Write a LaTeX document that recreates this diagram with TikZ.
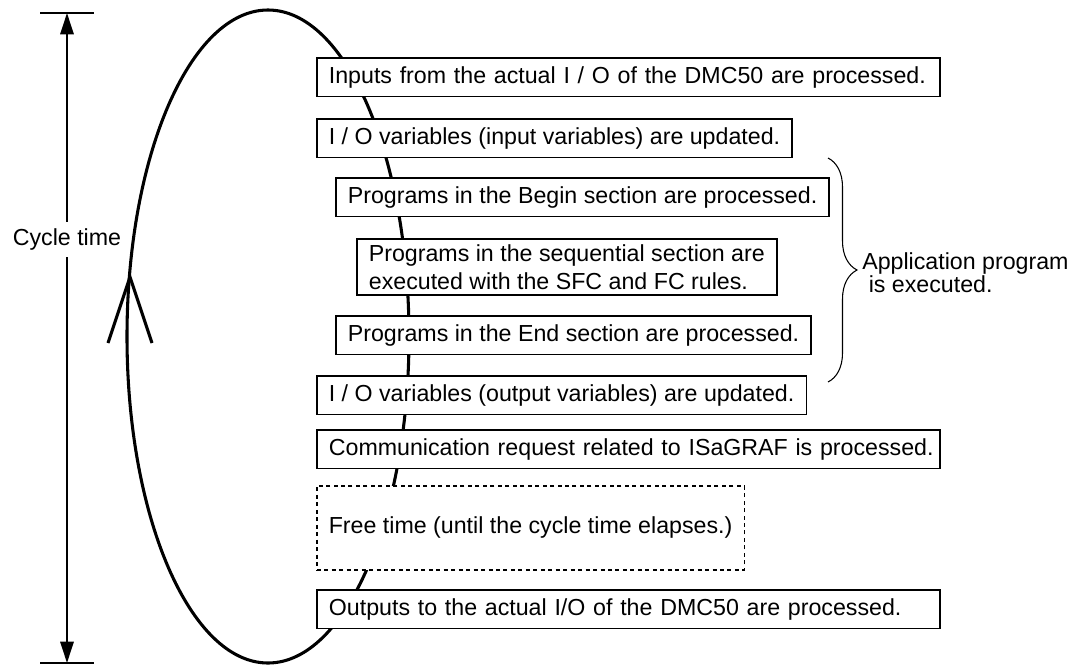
\documentclass[tikz,border=0pt]{standalone}
\usepackage{fontspec}
\setmainfont{Liberation Sans}
\usetikzlibrary{arrows.meta,decorations.pathreplacing}
\newcommand{\boxfont}{\fontsize{17.4pt}{21pt}\selectfont}
\tikzset{
  >={Triangle[length=16pt,width=10pt]},
  stepbox/.style={draw, fill=white, line width=1.3pt, anchor=north west,
    inner xsep=9pt, inner ysep=2pt, minimum height=29pt, align=left,
    font=\boxfont},
  widebox/.style={stepbox, text width=449.25pt},
  freebox/.style={stepbox, line width=1.2pt, dash pattern=on 3pt off 2.6pt,
    minimum height=63pt},
  loopline/.style={line width=2.3pt},
  tick/.style={line width=1.8pt},
  timearrow/.style={line width=1.5pt, <->},
  timelabel/.style={fill=white, font=\boxfont, inner xsep=1pt,
    minimum height=26pt},
  appbrace/.style={decorate, decoration={brace, amplitude=21.75pt},
    line width=.8pt},
  applabel/.style={anchor=west, inner sep=0pt, align=left,
    font=\fontsize{17.4pt}{16pt}\selectfont}
}

\begin{document}
\begin{tikzpicture}[x=.75pt,y=-.75pt]
  \useasboundingbox (0,0) rectangle (1081,664);

  % ------------------------------------------------------------------
  % 1. Scan loop
  \draw[loopline] (268,336.5) ellipse [x radius=141, y radius=326.5];
  \coordinate (looptip) at (130,277);
  \draw[loopline] (108,343) -- (looptip) -- (152,343);

  % ------------------------------------------------------------------
  % 2. Cycle time
  \coordinate (ctop) at (67,13);
  \coordinate (cbot) at (67,663);
  \draw[tick] ([xshift=-20pt]ctop) -- ([xshift=20pt]ctop);
  \draw[tick] ([xshift=-20pt]cbot) -- ([xshift=20pt]cbot);
  \draw[timearrow] (ctop) -- node[timelabel, pos=.348] {Cycle time} (cbot);

  % ------------------------------------------------------------------
  % 3. Processing steps
  \node[widebox] (inputs) at (316,57)
    {Inputs from the actual I / O of the DMC50 are processed.};
  \node[stepbox] (invars) at (316,118)
    {I / O variables (input variables) are updated.};
  \node[stepbox] (beginprog) at (335,177)
    {Programs in the Begin section are processed.};
  \node[stepbox, minimum height=42pt] (seqprog) at (356,238)
    {Programs in the sequential section are\\executed with the SFC and FC rules.};
  \node[stepbox] (endprog) at (335,315)
    {Programs in the End section are processed.};
  \node[stepbox] (outvars) at (316,375)
    {I / O variables (output variables) are updated.};
  \node[widebox] (comm) at (316,429)
    {\mbox{Communication request related to ISaGRAF is processed.}};
  \node[freebox] (freetime) at (316,485)
    {Free time (until the cycle time elapses.)};
  \node[widebox] (outputs) at (316,589)
    {Outputs to the actual I/O of the DMC50 are processed.};

  % ------------------------------------------------------------------
  % 4. Application program
  \coordinate (bracetop) at (828,158);
  \coordinate (bracebot) at (828,382);
  \draw[appbrace] (bracetop) -- (bracebot);
  \node[applabel] (appnote) at (862,273)
    {Application program\\\hspace*{4.9pt}is executed.};
\end{tikzpicture}
\end{document}
